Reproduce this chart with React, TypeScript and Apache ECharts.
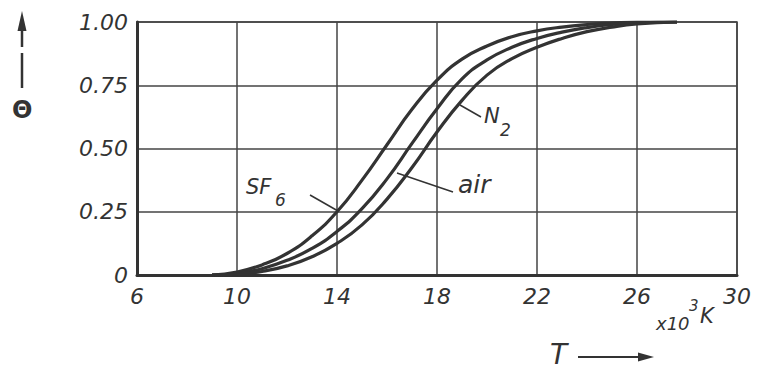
import React, { useEffect, useRef } from "react";
import * as echarts from "echarts";

// Temperature in 10^3 K
const temperatures = [9, 10, 11, 12, 13, 14, 15, 16, 17, 18, 19, 20, 21, 22, 23, 24, 25, 26, 27.6];
// Degree of ionisation Θ
const sf6Values = [0, 0.012, 0.04, 0.085, 0.155, 0.25, 0.375, 0.515, 0.655, 0.77, 0.853, 0.905, 0.942, 0.965, 0.98, 0.99, 0.996, 1.0, 1.0];
const airValues = [0, 0.006, 0.025, 0.058, 0.105, 0.172, 0.262, 0.38, 0.52, 0.657, 0.775, 0.85, 0.9, 0.935, 0.96, 0.978, 0.99, 0.996, 1.0];
const n2Values = [0, 0.003, 0.014, 0.036, 0.072, 0.125, 0.198, 0.3, 0.425, 0.565, 0.69, 0.79, 0.855, 0.9, 0.935, 0.962, 0.98, 0.992, 1.0];

const xMin = 6;
const xMax = 30;
const xStep = 4;
const yMin = 0;
const yMax = 1;
const yStep = 0.25;

const INK = "#333";
const FONT = "'DejaVu Sans', sans-serif";

export default function App() {
  const ref = useRef<HTMLDivElement>(null);

  useEffect(() => {
    if (!ref.current) return;
    const chart = echarts.init(ref.current, undefined, { renderer: "svg" });

    const curve = (name: string, vals: number[]) => ({
      name,
      type: "line",
      data: temperatures.map((t, i) => [t, vals[i]]),
      smooth: 0.5,
      showSymbol: false,
      clip: true,
      lineStyle: { color: INK, width: 3.2 },
      z: 5,
    });

    const txt = (x: number, y: number, text: string, size: number, extra: any = {}) => ({
      type: "text",
      x,
      y,
      style: {
        text,
        fill: INK,
        font: `italic ${size}px ${FONT}`,
        ...extra,
      },
      z: 10,
    });
    const ln = (x1: number, y1: number, x2: number, y2: number, w = 1.5) => ({
      type: "line",
      shape: { x1, y1, x2, y2 },
      style: { stroke: INK, lineWidth: w },
      z: 10,
    });

    chart.setOption({
      animation: false,
      backgroundColor: "#ffffff",
      grid: {
        left: 137,
        right: 22,
        top: 22,
        bottom: 95,
        show: true,
        borderColor: "#444",
        borderWidth: 1.5,
      },
      xAxis: {
        type: "value",
        min: xMin,
        max: xMax,
        interval: xStep,
        axisLine: { show: true, lineStyle: { color: INK, width: 3 } },
        axisTick: { show: false },
        splitLine: { show: true, lineStyle: { color: "#444", width: 1.5 } },
        axisLabel: {
          color: INK,
          fontSize: 22,
          fontStyle: "italic",
          fontFamily: FONT,
          margin: 10,
        },
      },
      yAxis: {
        type: "value",
        min: yMin,
        max: yMax,
        interval: yStep,
        axisLine: { show: true, lineStyle: { color: INK, width: 3 } },
        axisTick: { show: false },
        splitLine: { show: true, lineStyle: { color: "#444", width: 1.5 } },
        axisLabel: {
          color: INK,
          fontSize: 22,
          fontStyle: "italic",
          fontFamily: FONT,
          margin: 9,
          formatter: (v: number) => (v === 0 ? "0" : v.toFixed(2)),
        },
      },
      series: [curve("SF6", sf6Values), curve("air", airValues), curve("N2", n2Values)],
      graphic: [
        // y-axis quantity with arrow
        { type: "polygon", shape: { points: [[22, 11], [17.5, 31], [26.5, 31]] }, style: { fill: INK }, z: 10 },
        ln(22, 30, 22, 47, 2.5),
        ln(22, 53, 22, 88, 2.5),
        txt(12, 98, "Θ", 24, { font: `bold 24px ${FONT}` }),
        // x-axis quantity with arrow
        txt(550, 340, "T", 28),
        ln(578, 357, 642, 357, 2),
        { type: "polygon", shape: { points: [[654, 357], [638, 352.5], [638, 361.5]] }, style: { fill: INK }, z: 10 },
        // unit
        txt(656, 314, "x10", 18),
        txt(689, 298, "3", 15),
        txt(700, 305, "K", 21),
        // curve labels
        txt(246, 176, "SF", 21),
        txt(275, 191, "6", 17),
        ln(310, 195, 338, 211),
        txt(484, 105, "N", 21),
        txt(500, 121, "2", 17),
        ln(460, 105, 481, 117),
        txt(458, 172, "air", 25),
        ln(397, 173, 453, 192),
      ],
    });

    return () => chart.dispose();
  }, []);

  return (
    <div
      ref={ref}
      style={{ position: "fixed", left: 0, top: 0, width: 759, height: 370, background: "#fff" }}
    />
  );
}
